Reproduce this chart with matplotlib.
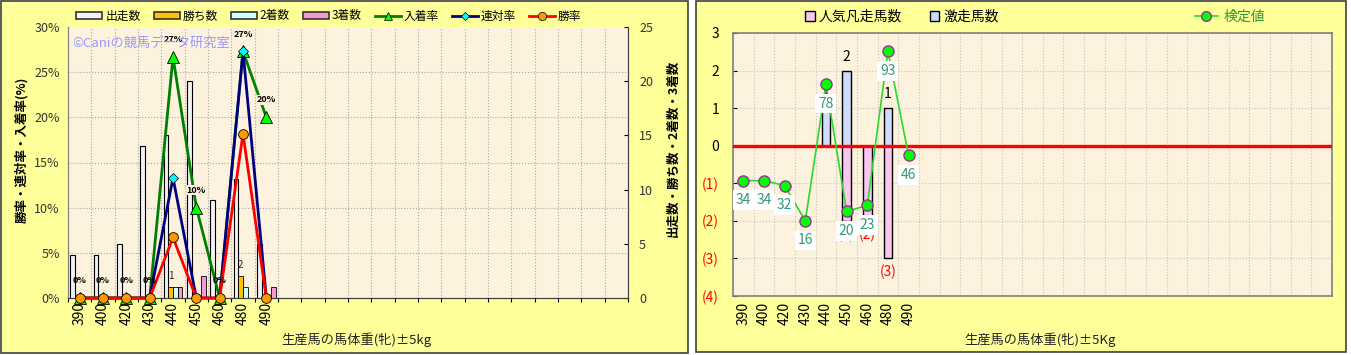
import numpy as np
import matplotlib
matplotlib.use('Agg')
import matplotlib.pyplot as plt
from matplotlib.patches import Rectangle
from matplotlib.lines import Line2D

plt.rcParams['font.family'] = ['Noto Sans CJK JP', 'DejaVu Sans']

W, H = 1351, 355

# weight classes (only the first 9 slots carry data)
weights = ['390', '400', '420', '430', '440', '450', '460', '480', '490']

# left chart: counts
runs = [4, 4, 5, 14, 15, 20, 9, 11, 5]
wins = [0, 0, 0, 0, 1, 0, 0, 2, 0]
seconds = [0, 0, 0, 0, 1, 0, 0, 1, 0]
thirds = [0, 0, 0, 0, 1, 2, 0, 0, 1]

# left chart: rates (%)
place_rate = [0, 0, 0, 0, 26.7, 10.0, 0, 27.3, 20.0]
quinella_rate = [0, 0, 0, 0, 13.3, 0, 0, 27.3, 0]
win_rate = [0, 0, 0, 0, 6.7, 0, 0, 18.2, 0]

# right chart
upset_counts = [0, 0, 0, 0, 1, 2, 0, 1, 0]       # 激走馬数
flop_counts = [0, 0, 0, 0, 0, -2, -2, -3, 0]     # 人気凡走馬数
test_pos = [-0.93, -0.93, -1.06, -2.0, 1.64, -1.75, -1.59, 2.51, -0.26]
test_values = [34, 34, 32, 16, 78, 20, 23, 93, 46]

n_left = 24
n_right = 29

BG = '#FFFF99'
PLOT_BG = '#FCF2DD'
GRID = '#A8A8A8'


def px_axes(fig, x0, y0, x1, y1):
    return fig.add_axes([x0 / W, 1 - y1 / H, (x1 - x0) / W, (y1 - y0) / H])


def ftext(fig, x, y, s, **kw):
    return fig.text(x / W, 1 - y / H, s, **kw)


fig = plt.figure(figsize=(W / 100, H / 100), dpi=100, facecolor='white')

# panel frames
fig.add_artist(Rectangle((1 / W, 2 / H), 687 / W, 352 / H, transform=fig.transFigure,
                         fc=BG, ec='#404040', lw=1.2, zorder=0))
fig.add_artist(Rectangle((696 / W, 3 / H), 650 / W, 351 / H, transform=fig.transFigure,
                         fc=BG, ec='#404040', lw=1.2, zorder=0))

# ---------------- left chart ----------------
ax = px_axes(fig, 68, 27, 628, 298)      # counts, shown on the right
ax.set_facecolor(PLOT_BG)
ax2 = ax.twinx()                          # rates, shown on the left
ax.yaxis.tick_right()
ax2.yaxis.tick_left()

x = np.arange(len(weights))
bw = 0.19
ax.bar(x - 0.3, runs, bw, color='#F2F2F2', edgecolor='black', lw=0.8, zorder=3)
ax.bar(x - 0.1, wins, bw, color='#FFC000', edgecolor='black', lw=0.6, zorder=3)
ax.bar(x + 0.1, seconds, bw, color='#CCFFFF', edgecolor='black', lw=0.6, zorder=3)
ax.bar(x + 0.3, thirds, bw, color='#F49AD0', edgecolor='black', lw=0.6, zorder=3)

for xi, w in zip(x, wins):
    if w > 0:
        ax.annotate(str(w), (xi - 0.1, w), xytext=(0, 8), textcoords='offset points',
                    ha='center', va='center', fontsize=7, color='#222222')

ax.set_xlim(-0.5, n_left - 0.5)
ax.set_ylim(0, 25)
ax.set_yticks(range(0, 26, 5))
ax.set_yticks(np.linspace(0, 25, 7), minor=True)
ax.tick_params(axis='y', which='major', direction='in', length=3, labelsize=9,
               labelcolor='#333333', pad=8)
ax.tick_params(axis='y', which='minor', length=0)
ax.set_xticks(np.arange(n_left + 1) - 0.5)
ax.set_xticklabels([])
ax.set_xticks(x, minor=True)
ax.set_xticklabels(weights, minor=True, rotation=90, fontsize=10)
ax.tick_params(axis='x', which='major', length=3, direction='out')
ax.tick_params(axis='x', which='minor', length=0, pad=3)
ax.grid(axis='x', which='major', color=GRID, ls=':', lw=0.8)
ax.grid(axis='y', which='minor', color=GRID, ls=':', lw=0.8)
ax.set_axisbelow(True)

ax2.plot(x, place_rate, color='#008000', lw=2, marker='^', ms=8, mfc='#00FF00',
         mec='black', mew=0.6, clip_on=False, zorder=4)
ax2.plot(x, quinella_rate, color='#000080', lw=2, marker='D', ms=5, mfc='#00FFFF',
         mec='black', mew=0.5, clip_on=False, zorder=5)
ax2.plot(x, win_rate, color='#FF0000', lw=2, marker='o', ms=7, mfc='#FF9900',
         mec='black', mew=0.6, clip_on=False, zorder=6)
for xi, v in zip(x, place_rate):
    box = dict(boxstyle='square,pad=0.05', fc=PLOT_BG, ec='none') if v > 0 else None
    ax2.annotate(f'{v:.0f}%', (xi, v), xytext=(0, 12.5), textcoords='offset points',
                 ha='center', va='center', fontsize=6.5, fontweight='bold', zorder=7,
                 bbox=box)

ax2.set_ylim(0, 30)
ax2.set_yticks(range(0, 31, 5))
ax2.set_yticklabels([f'{v}%' for v in range(0, 31, 5)])
ax2.tick_params(axis='y', length=0, labelsize=9, labelcolor='#333333', pad=6)

for a in (ax, ax2):
    a.spines['top'].set_visible(False)
    a.spines['left'].set_color('#808080')
    a.spines['right'].set_color('#404040')
    a.spines['bottom'].set_color('#404040')

ftext(fig, 22, 150, '勝率・連対率・入着率(%)', rotation=90, ha='center', va='center',
      fontsize=9, fontweight='bold')
ftext(fig, 673, 148, '出走数・勝ち数・2着数・3着数', rotation=90, ha='center', va='center',
      fontsize=9, fontweight='bold')
ftext(fig, 356, 340, '生産馬の馬体重(牝)±5kg', ha='center', va='center', fontsize=9.5,
      color='#222222')
ftext(fig, 72, 43, '©Caniの競馬データ研究室', ha='left', va='center', fontsize=9.5,
      color='#9999FF', zorder=1)

left_handles = [
    Rectangle((0, 0), 1, 1, fc='#F2F2F2', ec='#333333', lw=1.2),
    Rectangle((0, 0), 1, 1, fc='#FFC000', ec='#333333', lw=1.2),
    Rectangle((0, 0), 1, 1, fc='#CCFFFF', ec='#333333', lw=1.2),
    Rectangle((0, 0), 1, 1, fc='#F49AD0', ec='#333333', lw=1.2),
    Line2D([], [], color='#008000', lw=2, marker='^', ms=6, mfc='#00FF00', mec='black', mew=0.5),
    Line2D([], [], color='#000080', lw=2, marker='D', ms=4, mfc='#00FFFF', mec='black', mew=0.5),
    Line2D([], [], color='#FF0000', lw=2, marker='o', ms=6, mfc='#FF9900', mec='black', mew=0.5),
]
left_labels = ['出走数', '勝ち数', '2着数', '3着数', '入着率', '連対率', '勝率']
fig.legend(left_handles, left_labels, loc='center', bbox_to_anchor=(329 / W, 1 - 16 / H),
           ncol=7, frameon=False, fontsize=8.5, handlelength=2.2, handleheight=0.5,
           columnspacing=1.1, handletextpad=0.25)

# ---------------- right chart ----------------
axr = px_axes(fig, 733, 33, 1332, 296)
axr.set_facecolor(PLOT_BG)
xr = np.arange(len(weights))
axr.bar(xr, upset_counts, 0.42, color='#CFDCFF', edgecolor='black', lw=1, zorder=3)
axr.bar(xr, flop_counts, 0.42, color='#F8C6F0', edgecolor='black', lw=1, zorder=3)
axr.axhline(0, color='#FF0000', lw=2.4, zorder=4)

for xi, v in zip(xr, upset_counts):
    if v > 0:
        axr.annotate(str(v), (xi, v), xytext=(0, 10), textcoords='offset points',
                     ha='center', va='center', fontsize=10, color='black', zorder=3)
for xi, v in zip(xr, flop_counts):
    if v < 0:
        axr.annotate(f'({-v})', (xi, v), xytext=(0, -10), textcoords='offset points',
                     ha='center', va='center', fontsize=10, color='#FF0000', zorder=3)

axr.plot(xr, test_pos, color='#2BD92B', lw=1.2, marker='o', ms=8, mfc='#00FF00',
         mec='#993399', mew=1, zorder=5)
for xi, yv, v in zip(xr, test_pos, test_values):
    axr.annotate(str(v), (xi, yv), xytext=(0, -14), textcoords='offset points',
                 ha='center', va='center', fontsize=10, color='#339977', zorder=6,
                 bbox=dict(boxstyle='square,pad=0.2', fc='white', ec='none'))

axr.set_xlim(-0.5, n_right - 0.5)
axr.set_ylim(-4, 3)
yt = list(range(-4, 4))
axr.set_yticks(yt)
axr.set_yticklabels([f'({-v})' if v < 0 else str(v) for v in yt])
for lab, v in zip(axr.get_yticklabels(), yt):
    lab.set_color('#FF0000' if v < 0 else 'black')
axr.tick_params(axis='y', direction='in', length=3, labelsize=10, pad=10)
axr.set_xticks(np.arange(n_right + 1) - 0.5)
axr.set_xticklabels([])
axr.set_xticks(xr, minor=True)
axr.set_xticklabels(weights, minor=True, rotation=90, fontsize=10)
axr.tick_params(axis='x', which='both', length=0, pad=4)
axr.grid(axis='x', which='major', color='#C4C4C4', ls=':', lw=0.8)
axr.grid(axis='y', which='major', color='#C4C4C4', ls=':', lw=0.8)
axr.set_axisbelow(True)
for sp in axr.spines.values():
    sp.set_color('#808080')
    sp.set_linewidth(1.2)

ftext(fig, 1040, 340, '生産馬の馬体重(牝)±5Kg', ha='center', va='center', fontsize=9.5,
      color='#222222')

bar_handles = [Rectangle((0, 0), 1, 1, fc='#F8C6F0', ec='black', lw=1),
               Rectangle((0, 0), 1, 1, fc='#CFDCFF', ec='black', lw=1)]
fig.legend(bar_handles, ['人気凡走馬数', '激走馬数'], loc='center',
           bbox_to_anchor=(902 / W, 1 - 17 / H), ncol=2, frameon=False, fontsize=10,
           handlelength=0.7, handleheight=0.7, columnspacing=2.0, handletextpad=0.3)
test_handle = Line2D([], [], color='#2BD92B', lw=1.2, marker='o', ms=7, mfc='#00FF00',
                     mec='#993399', mew=1)
leg = fig.legend([test_handle], ['検定値'], loc='center',
                 bbox_to_anchor=(1230 / W, 1 - 17 / H), frameon=False, fontsize=10,
                 handlelength=1.7, handletextpad=0.4)
for t in leg.get_texts():
    t.set_color('#339933')

fig.savefig('out.png', dpi=100, facecolor=fig.get_facecolor())
